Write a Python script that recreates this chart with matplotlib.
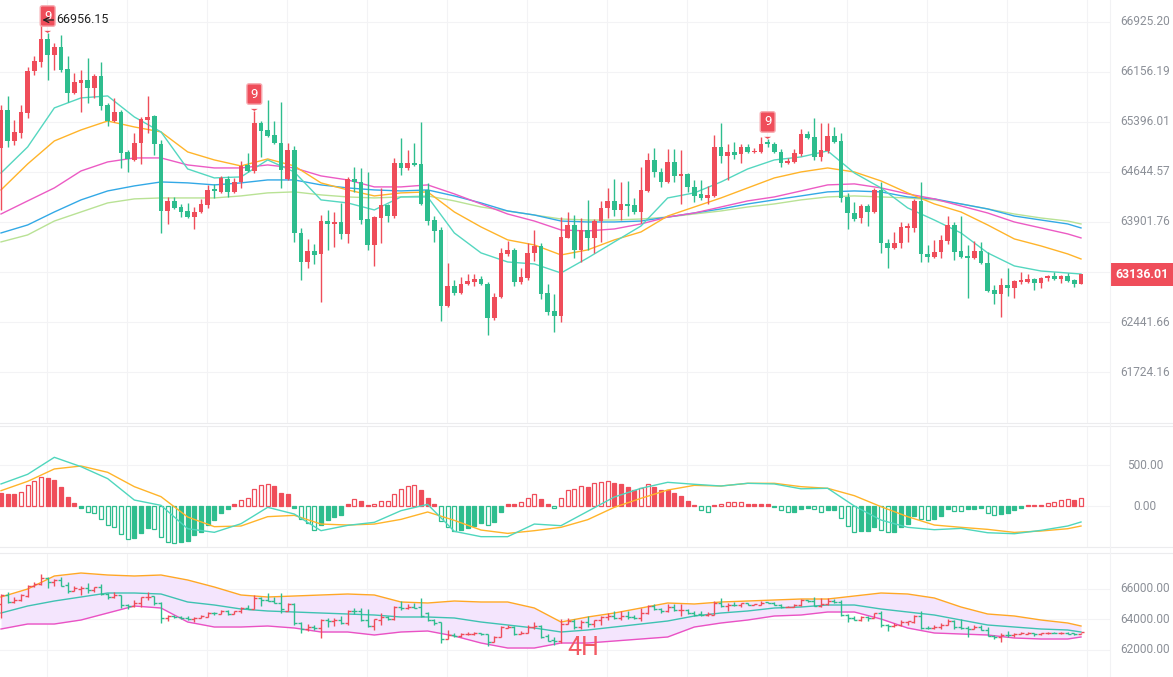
import numpy as np
import matplotlib
matplotlib.use("Agg")
import matplotlib.pyplot as plt
import matplotlib.transforms as mtransforms
from matplotlib.lines import Line2D
from matplotlib.ticker import NullLocator

RED = "#EF4D5A"
GREEN = "#2EBD8E"
GRID = "#F3F3F5"
SEP = "#ECECEE"
LABEL = "#8C9098"

plt.rcParams["font.family"] = ["Roboto", "DejaVu Sans"]

# 4H candles
opens = [65005, 65578, 65110, 65231, 65533, 66171, 66310, 66664, 66417, 66540,
         66202, 65837, 65989, 66034, 65913, 66095, 65654, 65411, 65548, 64945,
         64825, 65080, 65426, 65487, 65065, 64065, 64214, 64124, 64065, 63975,
         64050, 64154, 64392, 64348, 64541, 64348, 64496, 64750, 64660, 65381,
         65276, 65201, 65080, 64541, 64975, 63740, 63314, 63476, 63432, 63916,
         63873, 63902, 63726, 64541, 64496, 63946, 63564, 63961, 64154, 63990,
         64780, 64705, 64780, 64765, 64377, 63931, 63784, 62674, 62964, 62863,
         62993, 63022, 63066, 62993, 62500, 62805, 63432, 63491, 63022, 63080,
         63447, 63549, 62863, 62602, 62529, 63667, 63858, 63491, 63784, 63667,
         63916, 64110, 64214, 64080, 64169, 64154, 64050, 64362, 64825, 64645,
         64496, 64795, 64586, 64615, 64422, 64318, 64258, 64288, 65020, 64885,
         64945, 64915, 65020, 64945, 64945, 65095, 65065, 64945, 64780, 64795,
         64915, 65216, 65171, 64870, 64960, 65186, 65110, 64273, 64035, 63961,
         64139, 64050, 64377, 63593, 63520, 63593, 63814, 63814, 64214, 63432,
         63388, 63461, 63623, 63858, 63476, 63402, 63373, 63476, 63300, 62906,
         62848, 62979, 62935, 63022, 63022, 63066, 63008, 63080, 63109, 63066,
         63109, 63051, 62993]
highs = [65654, 65791, 65426, 65654, 66233, 66402, 66956.15, 66756, 66602, 66725,
         66402, 66141, 66187, 66371, 66126, 66310, 65685, 65761, 65578, 64975,
         65231, 65472, 65791, 65502, 65126, 64273, 64273, 64169, 64184, 64124,
         64244, 64452, 64467, 64586, 64586, 64556, 64810, 64930, 65563, 65411,
         65730, 65411, 65700, 65080, 65035, 63814, 63652, 63579, 64005, 64080,
         64050, 64184, 64571, 64720, 64705, 64645, 63990, 64407, 64169, 64855,
         65156, 64975, 65080, 65396, 64482, 63990, 63829, 63300, 63051, 63095,
         63138, 63138, 63109, 63022, 62863, 63520, 63623, 63520, 63226, 63593,
         63784, 63593, 62993, 62848, 63975, 64050, 64005, 63961, 64229, 63946,
         64214, 64407, 64541, 64496, 64511, 64258, 64720, 64930, 65005, 64705,
         64990, 64990, 64975, 64630, 64526, 64526, 64437, 65201, 65381, 65065,
         65095, 65065, 65065, 65005, 65171, 65141, 65095, 64990, 64855, 64990,
         65291, 65261, 65457, 65381, 65381, 65321, 65231, 64333, 64199, 64169,
         64169, 64407, 64496, 63652, 63755, 63902, 63887, 64244, 64496, 63564,
         63638, 63711, 63990, 63902, 63990, 63564, 63623, 63608, 63461, 62979,
         63080, 63226, 63051, 63167, 63138, 63080, 63095, 63124, 63167, 63124,
         63153, 63066, 63109]
lows = [64080, 65020, 65050, 65156, 65457, 66110, 66233, 66034, 66187, 66156,
        65700, 65822, 65548, 65685, 65761, 65578, 65336, 65396, 64705, 64645,
        64810, 64765, 65231, 64900, 63740, 63873, 64095, 63975, 63961, 63799,
        64035, 64110, 64258, 64333, 64273, 64333, 64407, 64645, 64630, 64870,
        65171, 65065, 64407, 64526, 63608, 63051, 63226, 63285, 62732, 63491,
        63535, 63652, 63593, 64348, 63873, 63491, 63256, 63593, 63902, 63961,
        64600, 64675, 64735, 64154, 63858, 63608, 62457, 62660, 62834, 62848,
        62979, 62964, 62979, 62255, 62471, 62790, 63402, 62964, 62993, 63051,
        63329, 62776, 62544, 62298, 62442, 63667, 63373, 63314, 63491, 63447,
        63608, 63961, 63990, 63931, 63990, 64020, 63887, 64348, 64571, 64422,
        64482, 64496, 64169, 64348, 64199, 64229, 64169, 64273, 64780, 64526,
        64840, 64780, 64930, 64930, 64930, 65020, 64930, 64720, 64765, 64780,
        64885, 65141, 64825, 64810, 64930, 65080, 64199, 63799, 63916, 63887,
        63843, 64035, 63447, 63226, 63505, 63520, 63608, 63755, 63314, 63314,
        63373, 63373, 63579, 63344, 63373, 62790, 63358, 63285, 62877, 62703,
        62515, 62819, 62790, 62993, 63008, 62906, 62935, 63037, 63051, 63008,
        63022, 62950, 62993]
closes = [65578, 65110, 65246, 65548, 66171, 66325, 66664, 66417, 66540, 66187,
          65837, 66004, 66034, 65913, 66095, 65639, 65411, 65548, 64930, 64840,
          65080, 65442, 65472, 65065, 64065, 64214, 64110, 64050, 63975, 64050,
          64169, 64377, 64362, 64556, 64348, 64496, 64735, 64660, 65381, 65261,
          65186, 65080, 64675, 64975, 63740, 63314, 63476, 63417, 63916, 63873,
          63902, 63726, 64541, 64496, 63931, 63564, 63975, 64154, 63990, 64780,
          64705, 64780, 64750, 64169, 63916, 63770, 62674, 62964, 62863, 62993,
          63037, 63066, 62993, 62500, 62805, 63447, 63491, 63022, 63095, 63447,
          63549, 62848, 62587, 62529, 63682, 63858, 63491, 63784, 63667, 63916,
          64110, 64214, 64080, 64169, 64139, 64050, 64377, 64825, 64645, 64496,
          64795, 64586, 64615, 64422, 64288, 64258, 64303, 65020, 64885, 64945,
          64900, 65020, 64945, 64960, 65065, 65065, 64945, 64780, 64810, 64930,
          65216, 65156, 64870, 64975, 65186, 65095, 64258, 64035, 63946, 64139,
          64050, 64377, 63593, 63520, 63593, 63829, 63843, 64214, 63432, 63388,
          63461, 63638, 63858, 63461, 63388, 63373, 63476, 63300, 62892, 62848,
          62979, 62935, 63037, 63051, 63066, 63008, 63080, 63109, 63066, 63109,
          63037, 62993, 63136.01]

# indicator lines read every 4th candle (plus the last one)
knots = list(range(0, 161, 4)) + [162]
ma_teal = [64630, 65020, 65609, 65761, 65791, 65472, 65246, 64690, 64556, 64571,
           64825, 64645, 64229, 64184, 64080, 64273, 64273, 63740, 63447, 63314,
           63285, 63153, 63373, 63608, 63843, 64258, 64333, 64496, 64690, 64825,
           64870, 64960, 64630, 64407, 64110, 63931, 63740, 63447, 63256, 63182,
           63153, 63138]
ma_orange = [64377, 64765, 65110, 65276, 65411, 65321, 65246, 64945, 64825, 64735,
             64840, 64735, 64482, 64377, 64288, 64333, 64348, 64050, 63829, 63638,
             63564, 63417, 63491, 63638, 63755, 63990, 64124, 64258, 64407, 64556,
             64645, 64705, 64645, 64511, 64333, 64169, 64050, 63858, 63652, 63549,
             63432, 63358]
ma_pink = [64020, 64214, 64407, 64660, 64795, 64855, 64855, 64750, 64705, 64705,
           64750, 64705, 64586, 64526, 64422, 64422, 64452, 64318, 64169, 64020,
           63916, 63784, 63770, 63799, 63873, 63975, 64035, 64124, 64214, 64273,
           64362, 64452, 64467, 64407, 64318, 64244, 64139, 64035, 63902, 63814,
           63726, 63667]
ma_blue = [63740, 63858, 64050, 64229, 64362, 64437, 64496, 64482, 64452, 64482,
           64526, 64526, 64452, 64407, 64377, 64362, 64377, 64288, 64184, 64065,
           64005, 63916, 63902, 63902, 63916, 63975, 64035, 64095, 64169, 64229,
           64288, 64348, 64362, 64348, 64273, 64244, 64169, 64095, 63990, 63931,
           63873, 63814]
ma_lime = [63608, 63711, 63916, 64050, 64184, 64244, 64258, 64258, 64258, 64288,
           64333, 64348, 64303, 64273, 64258, 64273, 64288, 64214, 64124, 64065,
           64005, 63946, 63931, 63931, 63946, 63975, 64020, 64065, 64124, 64169,
           64229, 64273, 64288, 64273, 64258, 64229, 64169, 64095, 64020, 63961,
           63916, 63873]

macd_hist = [155, 147, 147, 175, 256, 305, 358, 338, 317, 236,
             106, 33, -20, -69, -90, -163, -232, -260, -342, -407,
             -395, -326, -273, -280, -383, -435, -448, -435, -423, -354,
             -313, -232, -171, -81, -41, 24, 73, 94, 204, 256,
             269, 244, 163, 147, -28, -163, -212, -293, -232, -171,
             -138, -110, 24, 81, 61, 8, 24, 57, 61, 147,
             204, 244, 256, 195, 94, 24, -179, -260, -301, -293,
             -273, -244, -212, -232, -191, -69, 20, 20, 53, 94,
             147, 81, 24, -28, 94, 195, 204, 244, 228, 277,
             297, 305, 285, 269, 236, 195, 216, 269, 236, 195,
             190, 163, 122, 65, 12, -49, -73, 12, 24, 49,
             50, 51, 24, 20, 20, 20, -16, -49, -73, -70,
             -41, -28, -41, -73, -49, -45, -151, -244, -313, -310,
             -305, -252, -293, -322, -313, -260, -220, -122, -163, -167,
             -160, -122, -41, -57, -61, -41, -37, -28, -81, -110,
             -102, -90, -49, -28, 4, 8, 16, 33, 53, 69,
             81, 77, 94]
macd_dif = [269, 387, 594, 480, 334, 73, 8, -277, -321, -216,
            -16, -98, -301, -236, -199, -57, 20, -309, -374, -374,
            -220, -240, -65, 110, 216, 289, 265, 244, 277, 269,
            210, 216, 0, -171, -260, -289, -273, -326, -338, -297,
            -244, -195]
macd_dea = [187, 301, 452, 488, 411, 236, 114, -134, -252, -244,
            -130, -114, -220, -232, -220, -163, -73, -175, -293, -334,
            -301, -260, -167, -16, 94, 195, 252, 244, 277, 277,
            236, 216, 126, -8, -130, -232, -260, -285, -322, -305,
            -277, -244]

boll_upper = [65443, 65967, 66820, 67016, 66885, 66820, 66885, 66557, 66098, 65574,
              65443, 65508, 65574, 65639, 65574, 65115, 65049, 65180, 65115, 65115,
              64721, 63803, 64131, 64393, 64721, 65049, 64984, 65115, 65180, 65246,
              65311, 65311, 65508, 65705, 65639, 65377, 64787, 64328, 64197, 63934,
              63738, 63541]
boll_mid = [64393, 64852, 65180, 65443, 65705, 65705, 65639, 65115, 64918, 64656,
            64525, 64459, 64393, 64328, 64262, 64131, 64131, 64066, 63803, 63607,
            63410, 63148, 63279, 63475, 63672, 63869, 64197, 64393, 64525, 64721,
            64787, 64918, 64918, 64656, 64459, 64262, 63934, 63607, 63475, 63344,
            63279, 63148]
boll_lower = [63344, 63672, 63672, 63934, 64393, 64852, 64721, 63803, 63475, 63475,
              63541, 63410, 63148, 63148, 62951, 63148, 63213, 62885, 62426, 62098,
              62098, 62426, 62426, 62557, 62689, 62820, 63475, 63738, 63934, 64197,
              64262, 64459, 64459, 64000, 63410, 63082, 63016, 62951, 62754, 62689,
              62689, 62820]

price_ticks = [66925.20, 66156.19, 65396.01, 64644.57, 63901.76, 62441.66, 61724.16]
price_grid_extra = [63167.35]
macd_ticks = [500.0, 0.0]
boll_ticks = [66000.0, 64000.0, 62000.0]
td_nine = [7, 38, 115]
timeframe = "4H"

W, H = 1173, 677
fig = plt.figure(figsize=(W / 100, H / 100), dpi=100)
fig.patch.set_facecolor("white")

right = 1110 / W
ax = fig.add_axes([0, 1 - 423 / H, right, 423 / H])
ax_m = fig.add_axes([0, 1 - 547 / H, right, 121 / H])
ax_b = fig.add_axes([0, 0, right, 124 / H])

x = np.arange(len(closes))
o = np.array(opens, float)
h = np.array(highs, float)
l = np.array(lows, float)
c = np.array(closes, float)
up = c >= o
cols = np.where(up, RED, GREEN)
vgrid = np.arange(6.9, 166, 12)

for a in (ax, ax_m, ax_b):
    a.set_xlim(-0.15, 166.35)
    a.set_xticks([])
    a.set_yticks([])
    a.yaxis.set_minor_locator(NullLocator())
    for s in a.spines.values():
        s.set_visible(False)
    for gx in vgrid:
        a.axvline(gx, color=GRID, lw=0.8, zorder=0)


def right_label(a, val, text, color=LABEL):
    tr = mtransforms.blended_transform_factory(fig.transFigure, a.transData)
    a.text(1145 / W, val, text, transform=tr, ha="center", va="center",
           fontsize=8.6, color=color, clip_on=False)


# ---- main candles ----
ax.set_yscale("log")
ax.set_ylim(61001, 67266)
ax.yaxis.set_minor_locator(NullLocator())
ax.set_yticks([])
for v in price_ticks + price_grid_extra:
    ax.axhline(v, color=GRID, lw=0.8, zorder=0)
for v in price_ticks:
    right_label(ax, v, f"{v:.2f}")

for series, col in [(ma_lime, "#B9E295"), (ma_blue, "#33A9E6"), (ma_pink, "#EC5BC4"),
                    (ma_orange, "#FFB42A"), (ma_teal, "#55D7C0")]:
    ax.plot(knots, series, color=col, lw=1.0, zorder=2)

ax.vlines(x, l, h, colors=cols, lw=1.0, zorder=3)
body = np.maximum(np.abs(c - o), 10)
ax.bar(x, body, bottom=np.minimum(o, c), width=0.72, color=cols, lw=0, zorder=4)

# TD "9" badges with a small pointer under them
for i in td_nine:
    ax.annotate("", xy=(i, h[i]), xytext=(0, 3.5), textcoords="offset points",
                ha="center", va="center", zorder=6,
                arrowprops=dict(arrowstyle="wedge,tail_width=0.5", color=RED, lw=0))
    ax.annotate("9", xy=(i, h[i]), xytext=(0, 7.5), textcoords="offset points",
                ha="center", va="bottom", color="white", fontsize=9.5, zorder=6,
                bbox=dict(boxstyle="round,pad=0.28,rounding_size=0.15", fc=RED,
                          ec="#F7AAB0", lw=1.0))

peak = int(np.argmax(h))
ax.annotate(f"{h[peak]:.2f}", xy=(peak, h[peak]), xytext=(11, 0),
            textcoords="offset points", ha="left", va="center", fontsize=9,
            color="#222222", zorder=7,
            arrowprops=dict(arrowstyle="->", color="#222222", lw=0.9,
                            shrinkA=0, shrinkB=1))

tr = mtransforms.blended_transform_factory(fig.transFigure, ax.transData)
ax.text(1141.5 / W, c[-1], f"{c[-1]:.2f}", transform=tr, ha="center", va="center",
        fontsize=8.8, color="white", fontweight="bold", clip_on=False, zorder=8,
        bbox=dict(boxstyle="square,pad=0.42", fc=RED, ec="none"))

# ---- MACD ----
ax_m.set_ylim(-500, 976)
for v in macd_ticks + [-500.0]:
    ax_m.axhline(v, color=GRID, lw=0.8, zorder=0)
for v in macd_ticks:
    right_label(ax_m, v, f"{v:.2f}")
hist = np.array(macd_hist, float)
hcol = np.where(hist >= 0, RED, GREEN)
grow = np.r_[False, np.abs(hist[1:]) > np.abs(hist[:-1])]
hval = np.sign(hist) * np.maximum(np.abs(hist), 16)
for xi, hv, col, g in zip(x, hval, hcol, grow):
    ax_m.bar(xi, hv, width=0.62, facecolor="white" if g else col, edgecolor=col,
             lw=0.9, zorder=3)
ax_m.plot(knots, macd_dea, color="#FFB42A", lw=1.0, zorder=4)
ax_m.plot(knots, macd_dif, color="#4FD6BD", lw=1.0, zorder=4)

# ---- BOLL ----
ax_b.set_ylim(60197, 68328)
for v in boll_ticks:
    ax_b.axhline(v, color=GRID, lw=0.8, zorder=0)
    right_label(ax_b, v, f"{v:.2f}")
ax_b.fill_between(knots, boll_lower, boll_upper, color="#F4E5FD", lw=0, zorder=1)
ax_b.plot(knots, boll_upper, color="#FFA726", lw=1.0, zorder=2)
ax_b.plot(knots, boll_mid, color="#3FC2B2", lw=1.0, zorder=2)
ax_b.plot(knots, boll_lower, color="#EA52C4", lw=1.0, zorder=2)
ax_b.vlines(x, l, h, colors=cols, lw=1.0, zorder=3)
ax_b.hlines(o, x - 0.45, x, colors=cols, lw=1.0, zorder=3)
ax_b.hlines(c, x, x + 0.45, colors=cols, lw=1.0, zorder=3)
ax_b.text(583 / 1110, 0.235, timeframe, transform=ax_b.transAxes, ha="center",
          va="center", fontsize=18, color="#F25A64", zorder=5)

# panel separators
for py in (423, 426, 547, 553):
    fig.add_artist(Line2D([0, 1], [1 - py / H, 1 - py / H], color=SEP, lw=0.8))
fig.add_artist(Line2D([right, right], [0, 1], color="#F2F2F4", lw=0.8))

fig.savefig("out.png", dpi=100, facecolor="white")
